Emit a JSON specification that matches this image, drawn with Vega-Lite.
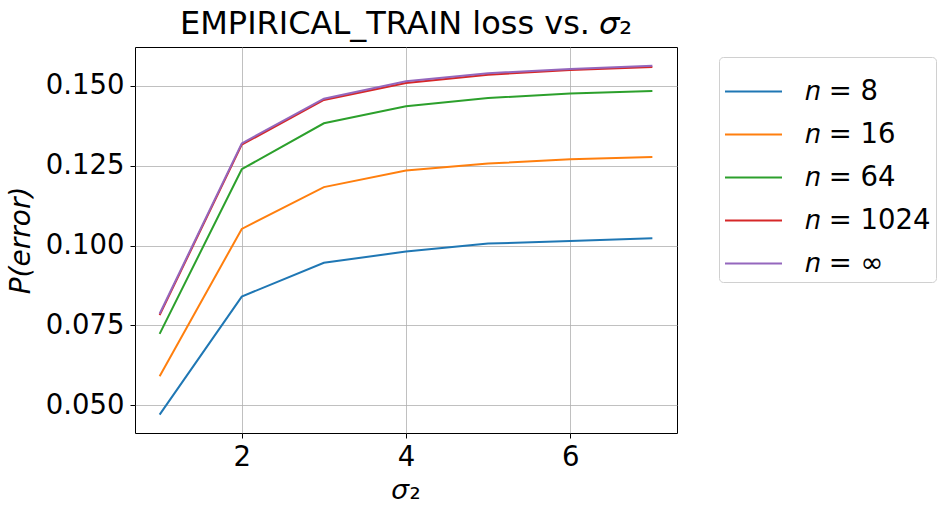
{
  "$schema": "https://vega.github.io/schema/vega-lite/v6.json",
  "width": 542,
  "height": 386,
  "autosize": {"type": "none"},
  "padding": {"left": 135, "top": 47, "right": 273, "bottom": 81},
  "background": "white",
  "config": {
    "font": "DejaVu Sans",
    "view": {"stroke": "black", "strokeWidth": 1},
    "axis": {
      "grid": true,
      "gridColor": "#b0b0b0",
      "gridWidth": 0.8,
      "domain": false,
      "tickColor": "black",
      "tickSize": 5,
      "tickWidth": 1,
      "labelFont": "DejaVu Sans",
      "labelFontSize": 27.5,
      "labelColor": "black",
      "titleFont": "DejaVu Sans",
      "titleFontSize": 28,
      "titleFontWeight": "normal",
      "titleColor": "black"
    }
  },
  "title": {
    "text": "EMPIRICAL_TRAIN loss vs. 𝜎₂",
    "font": "DejaVu Sans",
    "fontSize": 32,
    "fontWeight": "normal",
    "color": "black",
    "anchor": "middle",
    "offset": 6
  },
  "data": {
    "values": [
      {"sigma2": 1, "n": "8", "p": 0.0470},
      {"sigma2": 2, "n": "8", "p": 0.0840},
      {"sigma2": 3, "n": "8", "p": 0.0946},
      {"sigma2": 4, "n": "8", "p": 0.0981},
      {"sigma2": 5, "n": "8", "p": 0.1006},
      {"sigma2": 6, "n": "8", "p": 0.1014},
      {"sigma2": 7, "n": "8", "p": 0.1023},
      {"sigma2": 1, "n": "16", "p": 0.0590},
      {"sigma2": 2, "n": "16", "p": 0.1052},
      {"sigma2": 3, "n": "16", "p": 0.1183},
      {"sigma2": 4, "n": "16", "p": 0.1235},
      {"sigma2": 5, "n": "16", "p": 0.1257},
      {"sigma2": 6, "n": "16", "p": 0.1270},
      {"sigma2": 7, "n": "16", "p": 0.1277},
      {"sigma2": 1, "n": "64", "p": 0.0723},
      {"sigma2": 2, "n": "64", "p": 0.1239},
      {"sigma2": 3, "n": "64", "p": 0.1383},
      {"sigma2": 4, "n": "64", "p": 0.1436},
      {"sigma2": 5, "n": "64", "p": 0.1462},
      {"sigma2": 6, "n": "64", "p": 0.1476},
      {"sigma2": 7, "n": "64", "p": 0.1484},
      {"sigma2": 1, "n": "1024", "p": 0.0782},
      {"sigma2": 2, "n": "1024", "p": 0.1316},
      {"sigma2": 3, "n": "1024", "p": 0.1456},
      {"sigma2": 4, "n": "1024", "p": 0.1509},
      {"sigma2": 5, "n": "1024", "p": 0.1535},
      {"sigma2": 6, "n": "1024", "p": 0.1550},
      {"sigma2": 7, "n": "1024", "p": 0.1559},
      {"sigma2": 1, "n": "∞", "p": 0.0786},
      {"sigma2": 2, "n": "∞", "p": 0.1320},
      {"sigma2": 3, "n": "∞", "p": 0.1460},
      {"sigma2": 4, "n": "∞", "p": 0.1515},
      {"sigma2": 5, "n": "∞", "p": 0.1540},
      {"sigma2": 6, "n": "∞", "p": 0.1553},
      {"sigma2": 7, "n": "∞", "p": 0.1563}
    ]
  },
  "mark": {"type": "line", "strokeWidth": 2},
  "encoding": {
    "x": {
      "field": "sigma2",
      "type": "quantitative",
      "scale": {"domain": [0.7, 7.3], "nice": false, "zero": false},
      "axis": {"values": [2, 4, 6], "title": "𝜎₂", "labelPadding": 5, "titlePadding": 6}
    },
    "y": {
      "field": "p",
      "type": "quantitative",
      "scale": {"domain": [0.04125, 0.1622], "nice": false, "zero": false},
      "axis": {
        "values": [0.05, 0.075, 0.1, 0.125, 0.15],
        "format": ".3f",
        "title": "P(error)",
        "titleFontStyle": "italic",
        "labelPadding": 6,
        "titlePadding": 10
      }
    },
    "color": {
      "field": "n",
      "type": "nominal",
      "scale": {
        "domain": ["8", "16", "64", "1024", "∞"],
        "range": ["#1f77b4", "#ff7f0e", "#2ca02c", "#d62728", "#9467bd"]
      },
      "legend": {
        "title": null,
        "orient": "none",
        "legendX": 584,
        "legendY": 10,
        "labelExpr": "'𝑛 = ' + datum.label",
        "symbolType": "stroke",
        "symbolSize": 3249,
        "symbolStrokeWidth": 2,
        "labelFont": "DejaVu Sans",
        "labelFontSize": 27.5,
        "labelColor": "black",
        "labelOffset": 22,
        "rowPadding": 0,
        "padding": 5,
        "strokeColor": "#d0d0d0",
        "cornerRadius": 4,
        "fillColor": "white"
      }
    }
  }
}
